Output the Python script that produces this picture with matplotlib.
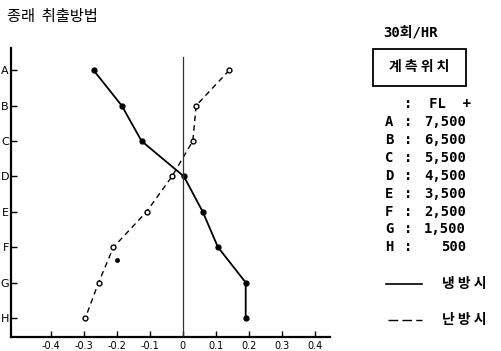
import matplotlib.pyplot as plt
from matplotlib.lines import Line2D
from matplotlib.patches import Rectangle

# measuring positions, top (A) to bottom (H)
positions = ['A', 'B', 'C', 'D', 'E', 'F', 'G', 'H']
levels = [8, 7, 6, 5, 4, 3, 2, 1]
heights = ['7,500', '6,500', '5,500', '4,500', '3,500', '2,500', '1,500', '500']

# cooling (solid) and heating (dashed) values per position
cooling = [-0.27, -0.185, -0.125, 0.003, 0.06, 0.106, 0.19, 0.19]
heating = [0.14, 0.04, 0.03, -0.033, -0.11, -0.21, -0.255, -0.295]
stray_x = [-0.2]
stray_y = [2.64]

xticks = [-0.4, -0.3, -0.2, -0.1, 0, 0.1, 0.2, 0.3, 0.4]
xticklabels = ['-0.4', '-0.3', '-0.2', '-0.1', '0', '0.1', '0.2', '0.3', '0.4']

W, H = 502, 351
KR = ['Noto Sans CJK KR', 'DejaVu Sans']
MONO = ['DejaVu Sans Mono', 'Noto Sans CJK KR']


def fx(px):
    return px / W


def fy(py):
    return 1 - py / H


fig = plt.figure(figsize=(W / 100, H / 100), dpi=100)
ax = fig.add_axes([fx(11), fy(337), (330 - 11) / W, (337 - 48) / H])

ax.plot(cooling, levels, color='black', lw=1.3, marker='o', ms=3.5,
        mfc='black', mec='black')
ax.plot(heating, levels, color='black', lw=1.0, ls=(0, (4, 3)), marker='o',
        ms=3.5, mfc='white', mec='black', mew=1.0)
ax.plot(stray_x, stray_y, 'o', color='black', ms=2.5)
ax.axvline(0, ymin=0, ymax=0.97, color='#333333', lw=0.9)

ax.set_xlim(-0.52, 0.445)
ax.set_ylim(0.46, 8.63)
ax.set_xticks(xticks)
ax.set_xticklabels(xticklabels, fontsize=7)
ax.set_yticks(levels)
ax.set_yticklabels(positions, fontsize=8)
ax.tick_params(axis='both', direction='in', length=4, width=1.0, pad=1.5)
ax.tick_params(axis='x', pad=3)
for s in ['top', 'right']:
    ax.spines[s].set_visible(False)
for s in ['left', 'bottom']:
    ax.spines[s].set_linewidth(1.6)

# title
fig.text(fx(7), fy(16), '종래  취출방법', family=KR, fontsize=11,
         ha='left', va='center')

# right panel
fig.text(fx(383), fy(32), '30회/HR', family=MONO, fontsize=10,
         fontweight='bold', ha='left', va='center')
fig.add_artist(Rectangle((fx(373), fy(86)), (466 - 373) / W, (86 - 49) / H,
                         transform=fig.transFigure, fill=False, lw=1.3,
                         ec='black'))
fig.text(fx(419.5), fy(67), '계 측 위 치', family=KR, fontsize=10,
         fontweight='bold', ha='center', va='center')

fig.text(fx(404), fy(104), ':  FL  +', family=MONO, fontsize=10,
         fontweight='bold', ha='left', va='center')
for i, (p, h) in enumerate(zip(positions, heights)):
    yy = 122 + i * 17.9
    fig.text(fx(385), fy(yy), p, family=MONO, fontsize=10,
             fontweight='bold', ha='left', va='center')
    fig.text(fx(404), fy(yy), ':', family=MONO, fontsize=10,
             fontweight='bold', ha='left', va='center')
    fig.text(fx(466), fy(yy), h, family=MONO, fontsize=10,
             fontweight='bold', ha='right', va='center')

fig.add_artist(Line2D([fx(386), fx(422)], [fy(284), fy(284)],
                      transform=fig.transFigure, color='black', lw=1.2))
fig.text(fx(442), fy(284), '냉 방 시', family=KR, fontsize=10,
         fontweight='bold', ha='left', va='center')
fig.add_artist(Line2D([fx(388), fx(422)], [fy(320), fy(320)],
                      transform=fig.transFigure, color='black', lw=1.0,
                      ls=(0, (7, 3))))
fig.text(fx(442), fy(320), '난 방 시', family=KR, fontsize=10,
         fontweight='bold', ha='left', va='center')

fig.savefig('out.png', dpi=100)
